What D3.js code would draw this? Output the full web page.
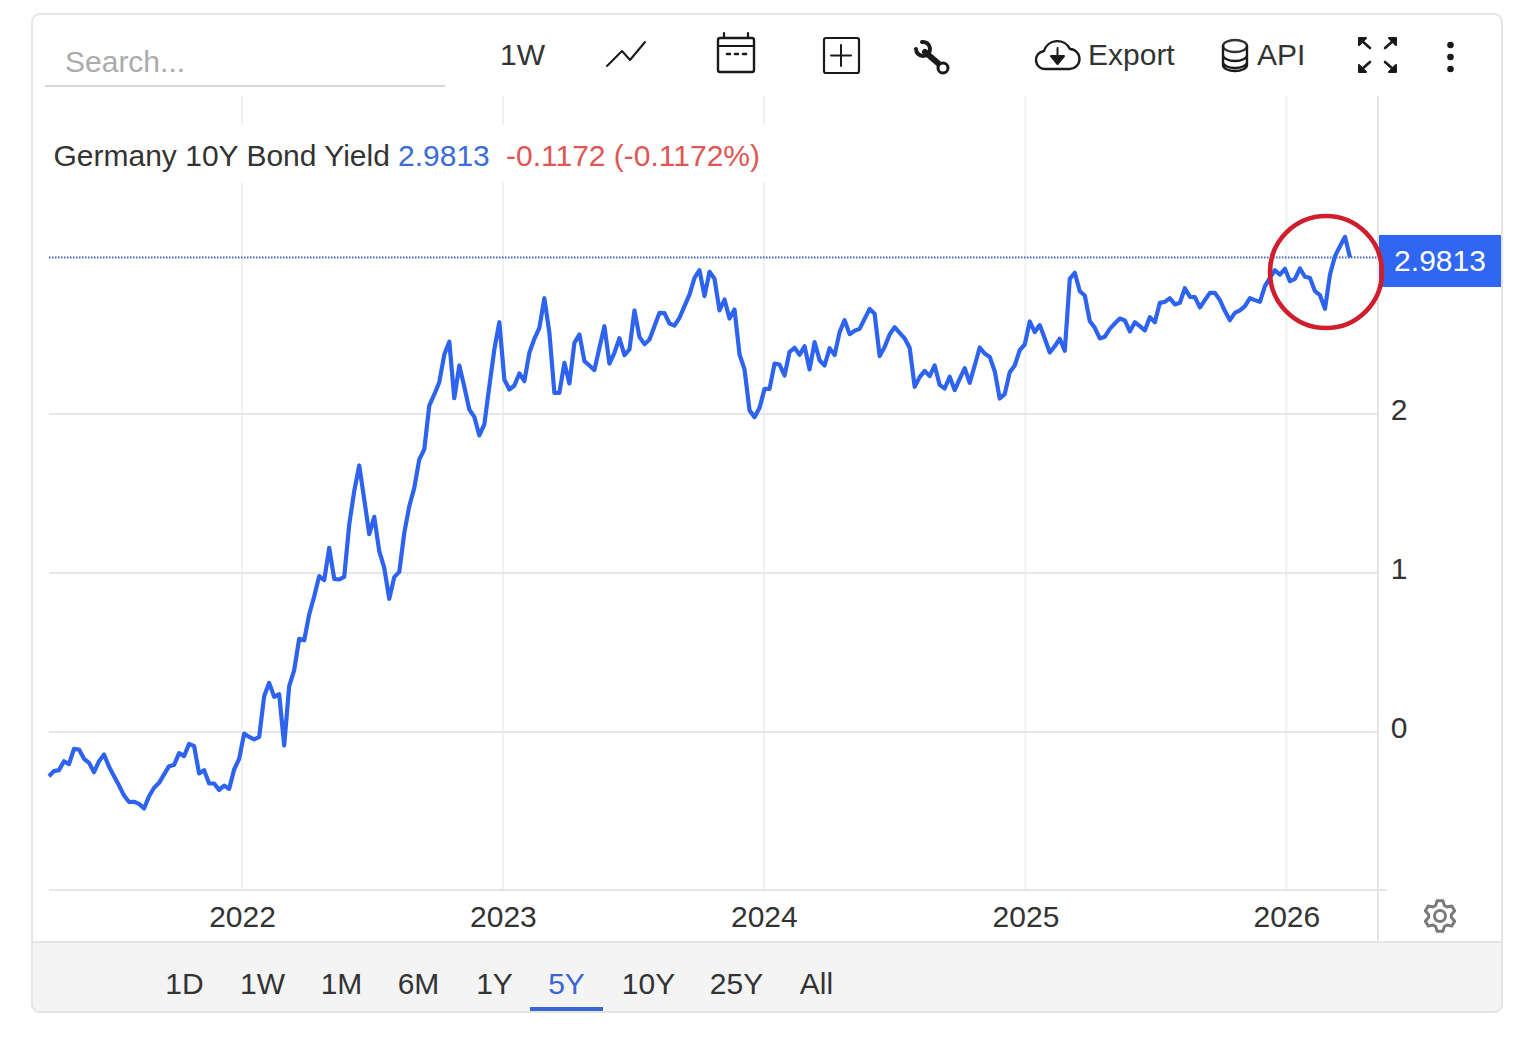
<!DOCTYPE html>
<html>
<head>
<meta charset="utf-8">
<script src="https://cdn.jsdelivr.net/npm/d3@7"></script>
<style>
    html, body { margin: 0; padding: 0; background: #fff; }
    svg { display: block; }
    text { font-family: 'Liberation Sans', Arial, sans-serif; }
</style>
</head>
<body>
<script>
// DATA (weekly readings)

const seriesName = 'Germany 10Y Bond Yield';
const firstWeek = new Date(2021, 3, 6);
const lastValue = 2.9813;
const changeLabel = '-0.1172 (-0.1172%)';

const yields = [
    -0.281, -0.249, -0.243, -0.187, -0.205, -0.109, -0.113, -0.172, -0.197, -0.256,
    -0.187, -0.145, -0.222, -0.281, -0.340, -0.403, -0.444, -0.442, -0.455, -0.484,
    -0.407, -0.354, -0.323, -0.270, -0.218, -0.210, -0.136, -0.155, -0.078, -0.092,
    -0.264, -0.243, -0.327, -0.327, -0.367, -0.340, -0.361, -0.239, -0.172,
    -0.013, -0.034, -0.050, -0.034, 0.222, 0.306, 0.218, 0.235, -0.088, 0.285,
    0.386, 0.583, 0.574, 0.736, 0.851, 0.977, 0.952, 1.155, 0.960, 0.956,
    0.973, 1.302, 1.512, 1.673, 1.459, 1.241, 1.350, 1.134, 1.029, 0.834,
    0.971, 1.004, 1.249, 1.417, 1.532, 1.711,
    1.774, 2.050, 2.120, 2.197, 2.371, 2.451, 2.096, 2.302, 2.168, 2.025,
    1.979, 1.862, 1.931, 2.172, 2.403, 2.574, 2.214, 2.151, 2.176, 2.252,
    2.203, 2.382, 2.470, 2.539, 2.725, 2.507, 2.130, 2.130, 2.319, 2.189,
    2.444, 2.497, 2.329, 2.302, 2.273, 2.413, 2.549, 2.314, 2.382, 2.474,
    2.367, 2.403, 2.648, 2.482, 2.436, 2.465, 2.549, 2.633, 2.631, 2.566,
    2.553, 2.602, 2.675, 2.748, 2.853, 2.901, 2.738, 2.891, 2.847, 2.648,
    2.717, 2.597, 2.654, 2.371, 2.277, 2.021, 1.977, 2.036, 2.155,
    2.155, 2.314, 2.308, 2.239, 2.388, 2.413, 2.369, 2.423, 2.277, 2.449,
    2.335, 2.302, 2.411, 2.367, 2.512, 2.587, 2.499, 2.520, 2.532, 2.595,
    2.658, 2.627, 2.361, 2.419, 2.497, 2.543, 2.507, 2.472, 2.413, 2.168,
    2.229, 2.268, 2.235, 2.302, 2.180, 2.157, 2.231, 2.147, 2.218, 2.285,
    2.193, 2.302, 2.415, 2.377, 2.356, 2.266, 2.094, 2.122, 2.260, 2.302,
    2.398, 2.434, 2.579, 2.512, 2.556, 2.472, 2.384, 2.423, 2.470, 2.394,
    2.847, 2.885, 2.769,
    2.742, 2.581, 2.539, 2.472, 2.482, 2.532, 2.566, 2.597, 2.585, 2.516,
    2.574, 2.549, 2.522, 2.606, 2.574, 2.696, 2.702, 2.725, 2.686, 2.696,
    2.788, 2.734, 2.732, 2.667, 2.713, 2.759, 2.759, 2.713, 2.644, 2.587,
    2.633, 2.648, 2.675, 2.725, 2.713, 2.702, 2.801, 2.853, 2.901, 2.874,
    2.910, 2.832, 2.847, 2.912, 2.860, 2.853, 2.769, 2.744, 2.658, 2.874,
    2.990, 3.052, 3.111, 2.9813
];

const yearTicks = [2022, 2023, 2024, 2025, 2026];
const yieldTicks = [0, 1, 2];
const rangeTabs = ['1D', '1W', '1M', '6M', '1Y', '5Y', '10Y', '25Y', 'All'];
const activeTab = '5Y';


// LAYOUT AND COLOURS

const chartConfig = { w: 1528, h: 1041 };
const plot = { left: 49, right: 1378, top: 96, bottom: 890 };
const tabCentres = [184.5, 262.5, 341.5, 418.5, 494.5, 566.5, 648.5, 736.5, 816.5];
const lineBlue = '#2d63ee';
const textDark = '#333333';
const borderGrey = '#e4e5e6';

const svg = d3.select('body')
    .append('svg')
    .attr('width', chartConfig.w)
    .attr('height', chartConfig.h);


// SCALES

const weeks = yields.map(function(d, i) {
    return d3.timeDay.offset(firstWeek, i * 7);
});

const xScale = d3.scaleTime()
    .domain([weeks[0], weeks[weeks.length - 1]])
    .range([plot.left, 1350]);

const yScale = d3.scaleLinear()
    .domain([0, 2])
    .range([731.5, 413.5]);

const yearDates = yearTicks.map(function(y) { return new Date(y, 0, 1); });


// CARD

svg.append('rect')
    .attr('x', 32).attr('y', 14)
    .attr('width', 1470).attr('height', 998)
    .attr('rx', 8)
    .attr('fill', '#fff')
    .attr('stroke', borderGrey)
    .attr('stroke-width', 2);

const footerShape = 'M32,942 H1502 V1004 a8,8 0 0 1 -8,8 H40 a8,8 0 0 1 -8,-8 Z';

svg.append('path')
    .attr('d', footerShape)
    .attr('fill', '#f4f4f5')
    .attr('stroke', borderGrey)
    .attr('stroke-width', 2);


// GRID

const xGrid = d3.axisBottom(xScale)
    .tickValues(yearDates)
    .tickSize(plot.bottom - plot.top)
    .tickFormat('');

svg.append('g')
    .attr('transform', 'translate(-0.5,' + plot.top + ')')
    .call(xGrid)
    .call(function(g) {
        g.select('.domain').remove();
        g.selectAll('line').attr('stroke', '#edf1f5').attr('stroke-width', 2);
    });

const yGrid = d3.axisLeft(yScale)
    .tickValues(yieldTicks)
    .tickSize(plot.right - plot.left)
    .tickFormat('');

svg.append('g')
    .attr('transform', 'translate(' + plot.right + ',0)')
    .call(yGrid)
    .call(function(g) {
        g.select('.domain').remove();
        g.selectAll('line').attr('stroke', '#e6e7e8').attr('stroke-width', 2);
    });

// right and bottom edges of the plot
svg.append('line')
    .attr('x1', plot.right).attr('x2', plot.right)
    .attr('y1', plot.top).attr('y2', 942)
    .attr('stroke', borderGrey).attr('stroke-width', 2);

svg.append('line')
    .attr('x1', plot.left).attr('x2', 1387)
    .attr('y1', plot.bottom).attr('y2', plot.bottom)
    .attr('stroke', borderGrey).attr('stroke-width', 2);

// white strip behind the legend
svg.append('rect')
    .attr('x', plot.left).attr('y', 125)
    .attr('width', 722).attr('height', 57)
    .attr('fill', '#fff');


// AXES

const xAxis = d3.axisBottom(xScale)
    .tickValues(yearDates)
    .tickSize(0)
    .tickPadding(0)
    .tickFormat(d3.timeFormat('%Y'));

svg.append('g')
    .attr('transform', 'translate(0,' + plot.bottom + ')')
    .call(xAxis)
    .call(function(g) {
        g.select('.domain').remove();
        g.selectAll('text')
            .attr('y', 37)
            .attr('dy', 0)
            .attr('font-size', 30)
            .attr('fill', textDark);
    });

const yAxis = d3.axisRight(yScale)
    .tickValues(yieldTicks)
    .tickSize(0)
    .tickFormat(d3.format('d'));

svg.append('g')
    .attr('transform', 'translate(1399,0)')
    .call(yAxis)
    .call(function(g) {
        g.select('.domain').remove();
        g.selectAll('text')
            .attr('x', 0)
            .attr('dy', 5.5)
            .attr('text-anchor', 'middle')
            .attr('font-size', 30)
            .attr('fill', textDark);
    });


// LAST VALUE LINE

svg.append('line')
    .attr('x1', plot.left).attr('x2', plot.right)
    .attr('y1', yScale(lastValue)).attr('y2', yScale(lastValue))
    .attr('stroke', '#3c68c4')
    .attr('stroke-width', 2)
    .attr('stroke-dasharray', '1.5 1.5');


// LINE

const line = d3.line()
    .x(function(d, i) { return xScale(weeks[i]); })
    .y(function(d) { return yScale(d); });

svg.append('path')
    .datum(yields)
    .attr('d', line)
    .attr('fill', 'none')
    .attr('stroke', lineBlue)
    .attr('stroke-width', 4.2)
    .attr('stroke-linejoin', 'round');


// LAST VALUE TAG

svg.append('rect')
    .attr('x', 1379).attr('y', 235)
    .attr('width', 122).attr('height', 52)
    .attr('fill', '#2f67f2');

svg.append('text')
    .attr('x', 1440).attr('y', 271)
    .attr('text-anchor', 'middle')
    .attr('font-size', 30)
    .attr('fill', '#fff')
    .text(d3.format('.4f')(lastValue));


// RED CIRCLE

svg.append('circle')
    .attr('cx', 1326).attr('cy', 272).attr('r', 56)
    .attr('fill', 'none')
    .attr('stroke', '#cf1f2e')
    .attr('stroke-width', 4.6);


// LEGEND

svg.append('text')
    .attr('x', 53.5).attr('y', 166)
    .attr('font-size', 30)
    .attr('fill', textDark)
    .text(seriesName);

svg.append('text')
    .attr('x', 398).attr('y', 166)
    .attr('font-size', 30)
    .attr('fill', '#3d6bd8')
    .text(d3.format('.4f')(lastValue));

svg.append('text')
    .attr('x', 506).attr('y', 166)
    .attr('font-size', 30)
    .attr('fill', '#e05656')
    .text(changeLabel);


// TOOLBAR

svg.append('text')
    .attr('x', 65).attr('y', 72)
    .attr('font-size', 30)
    .attr('fill', '#ababab')
    .text('Search...');

svg.append('line')
    .attr('x1', 45).attr('x2', 445)
    .attr('y1', 86).attr('y2', 86)
    .attr('stroke', '#d8d8d8')
    .attr('stroke-width', 2);

function toolbarText(label, x) {
    svg.append('text')
        .attr('x', x).attr('y', 65)
        .attr('font-size', 30)
        .attr('fill', textDark)
        .text(label);
}

toolbarText('1W', 500);
toolbarText('Export', 1088);
toolbarText('API', 1257);

function icon(d, width, fill) {
    svg.append('path')
        .attr('d', d)
        .attr('fill', fill || 'none')
        .attr('stroke', '#1a1a1a')
        .attr('stroke-width', width)
        .attr('stroke-linejoin', 'round')
        .attr('stroke-linecap', 'round');
}

// line chart icon
icon('M607,66 L622,51 L630,60 L645,42', 2);

// calendar
icon('M720,38 H752 a2,2 0 0 1 2,2 V70 a2,2 0 0 1 -2,2 H720 a2,2 0 0 1 -2,-2 V40 a2,2 0 0 1 2,-2 Z', 2.4);
icon('M718,46 H754 M724,33 V38 M748,33 V38', 2.2);
icon('M727,54 h3 M735,54 h3 M743,54 h3', 2.6);

// add box
icon('M826,38 H857 a2,2 0 0 1 2,2 V71 a2,2 0 0 1 -2,2 H826 a2,2 0 0 1 -2,-2 V40 a2,2 0 0 1 2,-2 Z', 2.2);
icon('M841,45 V66 M831,55.5 H851', 2);

// wrench
icon('M916,49 A7,7 0 1 0 922,42', 4);
icon('M925,52 L939,64', 6);
svg.append('circle')
    .attr('cx', 943).attr('cy', 68).attr('r', 5)
    .attr('fill', '#fff').attr('stroke', '#1a1a1a').attr('stroke-width', 3);

// export cloud
icon('M1046,69 a9,9 0 0 1 -2,-18 a14,14 0 0 1 26,-2 a10,10 0 0 1 -1,20 Z', 2.4);
icon('M1057.5,48 V58 M1051,56 H1064 L1057.5,64 Z', 2, '#1a1a1a');

// database
svg.append('ellipse')
    .attr('cx', 1235).attr('cy', 46)
    .attr('rx', 12).attr('ry', 6)
    .attr('fill', 'none').attr('stroke', '#333').attr('stroke-width', 2.4);
icon('M1223,46 V65 a12,6 0 0 0 24,0 V46 M1223,55 a12,6 0 0 0 24,0 M1223,62 a12,6 0 0 0 24,0', 2.4);

// fullscreen
icon('M1359,38 h7 l-7,7 Z M1396,38 h-7 l7,7 Z M1359,72 h7 l-7,-7 Z M1396,72 h-7 l7,-7 Z', 2, '#111');
icon('M1362,41 L1370,48 M1393,41 L1385,48 M1362,69 L1370,62 M1393,69 L1385,62', 2.6);

// menu dots
svg.selectAll('circle.dot')
    .data([45, 57, 69])
    .enter()
    .append('circle')
    .attr('class', 'dot')
    .attr('cx', 1450.5)
    .attr('cy', function(d) { return d; })
    .attr('r', 3.3)
    .attr('fill', '#1a1a1a');

// settings gear
const gearCentre = [1440, 916];
const gearPoints = [];

d3.range(6).forEach(function(i) {
    const a = i * Math.PI / 3 - Math.PI / 2;
    [[-0.62, 11.5], [-0.3, 15.5], [0.3, 15.5], [0.62, 11.5]].forEach(function(p) {
        gearPoints.push([
            gearCentre[0] + p[1] * Math.cos(a + p[0] * 0.62),
            gearCentre[1] + p[1] * Math.sin(a + p[0] * 0.62)
        ]);
    });
});

svg.append('path')
    .attr('d', d3.line()(gearPoints) + 'Z')
    .attr('fill', '#fff')
    .attr('stroke', '#7a7a7a')
    .attr('stroke-width', 3)
    .attr('stroke-linejoin', 'round');

svg.append('circle')
    .attr('cx', gearCentre[0]).attr('cy', gearCentre[1]).attr('r', 5.5)
    .attr('fill', 'none').attr('stroke', '#7a7a7a').attr('stroke-width', 3);


// RANGE TABS

svg.selectAll('text.tab')
    .data(rangeTabs)
    .enter()
    .append('text')
    .attr('class', 'tab')
    .attr('x', function(d, i) { return tabCentres[i]; })
    .attr('y', 994)
    .attr('text-anchor', 'middle')
    .attr('font-size', 30)
    .attr('fill', function(d) { return d === activeTab ? '#3a66d4' : textDark; })
    .text(function(d) { return d; });

svg.append('rect')
    .attr('x', 530).attr('y', 1007)
    .attr('width', 73).attr('height', 4)
    .attr('fill', '#3a66d4');
</script>
</body>
</html>
